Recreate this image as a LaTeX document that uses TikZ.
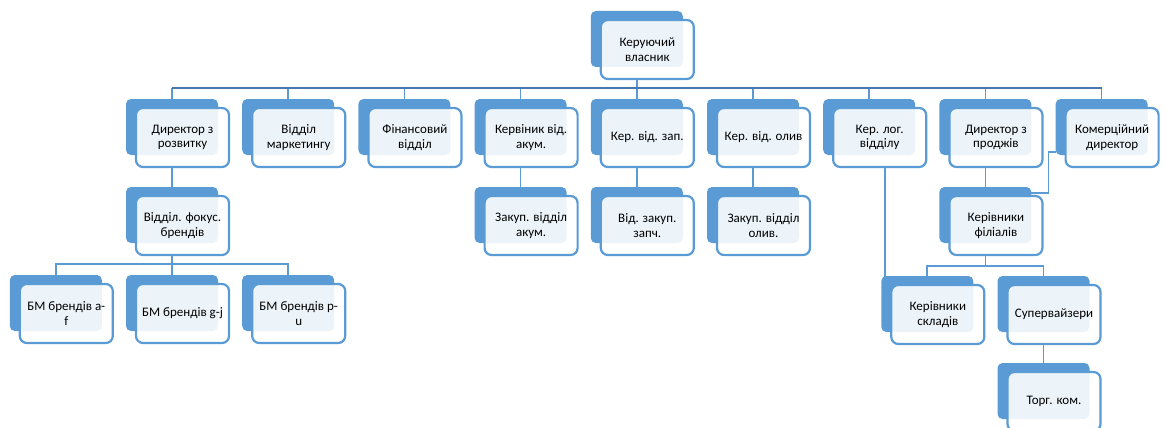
\documentclass[tikz,border=0pt]{standalone}
\usepackage{fontspec}
\setmainfont{Carlito}
\usetikzlibrary{calc}
\definecolor{boxblue}{HTML}{5B9BD5}
\definecolor{busblue}{HTML}{4677AE}
\pgfdeclarelayer{lines}
\pgfdeclarelayer{backs}
\pgfsetlayers{lines,backs,main}
\tikzset{
  frontbox/.style={draw=boxblue, line width=2.2pt, rounded corners=7pt,
    fill=white, fill opacity=0.89, text opacity=1,
    minimum width=93pt, minimum height=59pt, inner sep=0pt,
    align=center, font=\fontsize{13}{14.5}\selectfont, text=black},
  backbox/.style={fill=boxblue, rounded corners=5pt},
  conn/.style={draw=boxblue, line width=1.7pt},
  busline/.style={draw=busblue, line width=1.9pt},
}
% name, left x and top y of the blue tab, label
\newcommand\orgbox[4]{%
  \node[frontbox] (#1) at (#2+56.5,#3+38.5) {#4};
  \begin{pgfonlayer}{backs}
    \fill[backbox] ([shift={(-56.5pt,38.5pt)}]#1.center) rectangle ([shift={(35.5pt,-17.5pt)}]#1.center);
  \end{pgfonlayer}}
\begin{document}
\begin{tikzpicture}[x=1pt,y=-1pt]
\useasboundingbox (0,0) rectangle (1165,428);

% top
\orgbox{top}{590.8}{11}{Керуючий\\власник}
% second level
\orgbox{dA}{126}{99}{Директор з\\розвитку}
\orgbox{dB}{242.2}{99}{Відділ\\маркетингу}
\orgbox{dC}{358.4}{99}{Фінансовий\\відділ}
\orgbox{dD}{474.6}{99}{Кервіник від.\\акум.}
\orgbox{dE}{590.8}{99}{Кер. від. зап.}
\orgbox{dF}{707}{99}{Кер. від. олив}
\orgbox{dG}{823.2}{99}{Кер. лог.\\відділу}
\orgbox{dH}{939.4}{99}{Директор з\\проджів}
\orgbox{dI}{1055.6}{99}{Комерційний\\директор}
% third level
\orgbox{fb}{126}{187}{Відділ. фокус.\\брендів}
\orgbox{za}{474.6}{187}{Закуп. відділ\\акум.}
\orgbox{zb}{590.8}{187}{Від. закуп.\\запч.}
\orgbox{zc}{707}{187}{Закуп. відділ\\олив.}
\orgbox{kf}{939.4}{187}{Керівники\\філіалів}
% fourth level
\orgbox{bmA}{9.8}{275}{БМ брендів a-\\f}
\orgbox{bmB}{126}{275}{БМ брендів g-j}
\orgbox{bmC}{242.2}{275}{БМ брендів p-\\u}
\orgbox{ks}{881.3}{276}{Керівники\\складів}
\orgbox{sv}{997.5}{276}{Супервайзери}
% fifth level
\orgbox{tk}{997.5}{363}{Торг. ком.}

\begin{pgfonlayer}{lines}
  % owner to second level
  \coordinate (busA) at ([xshift=-10.5pt,yshift=-8pt]top.south);
  \draw[conn] ([xshift=-10.5pt]top.south) -- (busA);
  \foreach \c in {dA,dB,dC,dD,dE,dF,dG,dH,dI}
    \draw[conn] ([xshift=-10.5pt]\c.north) -- ([xshift=-10.5pt]\c.north |- busA);
  \draw[busline] ([xshift=-10.5pt]dA.north |- busA) -- ([xshift=-10.5pt]dI.north |- busA);
  % single children
  \foreach \p/\c in {dA/fb,dD/za,dE/zb,dF/zc,dH/kf,sv/tk}
    \draw[conn] ([xshift=-10.5pt]\p.south) -- ([xshift=-10.5pt]\c.north);
  % focus brands to brand managers
  \coordinate (busB) at ([xshift=-10.5pt,yshift=-8pt]fb.south);
  \draw[conn] ([xshift=-10.5pt]fb.south) -- (busB);
  \draw[conn] ([xshift=-10.5pt]bmA.north) |- (busB) -| ([xshift=-10.5pt]bmC.north);
  \draw[conn] (busB) -- ([xshift=-10.5pt]bmB.north);
  % branch heads to warehouses and supervisors
  \coordinate (busC) at ([xshift=-10.5pt,yshift=-10pt]kf.south);
  \draw[conn] ([xshift=-10.5pt]kf.south) -- (busC);
  \draw[conn] ([xshift=-10.5pt]ks.north) |- (busC) -| ([xshift=-10.5pt]sv.north);
  % logistics to warehouses
  \draw[conn] ([xshift=5pt]dG.south) -- ([xshift=5pt]dG.south |- ks.north);
  % commercial director to branch heads
  \draw[conn] ([shift={(-56.5pt,-14.5pt)}]dI.center) -- ++(-7,0)
    |- ([shift={(35.5pt,32.5pt)}]kf.center);
\end{pgfonlayer}
\end{tikzpicture}
\end{document}
